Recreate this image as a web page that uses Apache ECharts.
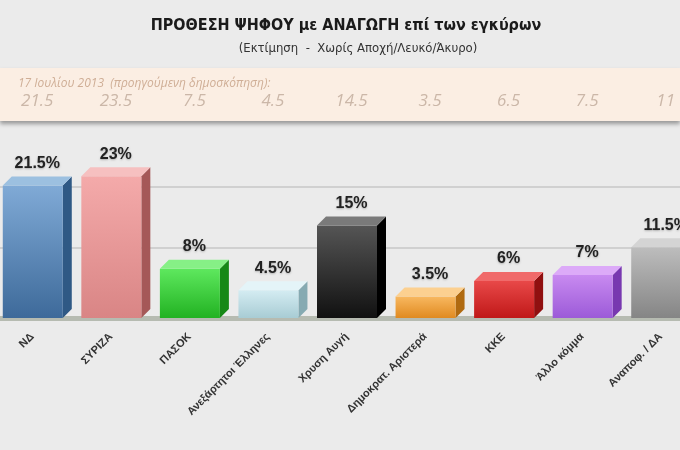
<!DOCTYPE html>
<html>
<head>
<meta charset="utf-8">
<script src="https://cdn.jsdelivr.net/npm/echarts@6/dist/echarts.min.js"></script>
<style>
  html, body { margin: 0; padding: 0; background: #ebebeb; }
  #chart { width: 680px; height: 450px; }
</style>
</head>
<body>
<div id="chart"></div>
<script>
(function() {

  // κόμματα
  var parties = ['ΝΔ', 'ΣΥΡΙΖΑ', 'ΠΑΣΟΚ', 'Ανεξάρτητοι Έλληνες', 'Χρυση Αυγή',
    'Δημοκρατ. Αριστερά', 'ΚΚΕ', 'Άλλο κόμμα', 'Αναποφ. / ΔΑ'];
  // τρέχουσα δημοσκόπηση (%)
  var current = [21.5, 23, 8, 4.5, 15, 3.5, 6, 7, 11.5];
  // 17 Ιουλίου 2013 (προηγούμενη)
  var previous = ['21.5', '23.5', '7.5', '4.5', '14.5', '3.5', '6.5', '7.5', '11'];

  // [front top, front bottom, side, top face]
  var palette = [
    ['#80aad6', '#3e6a9a', '#2f5985', '#9cc0e0'],
    ['#f4aaaa', '#d98585', '#a55858', '#f6c0c0'],
    ['#5ee85e', '#22b222', '#168816', '#86f086'],
    ['#d4ecf2', '#a8ccd4', '#86aab2', '#e4f4f8'],
    ['#555555', '#111111', '#000000', '#7a7a7a'],
    ['#f8b860', '#e08a20', '#b06a10', '#fcd090'],
    ['#e84848', '#c01818', '#901010', '#f06a6a'],
    ['#c88af0', '#9c5ad8', '#7838b0', '#dcaaf8'],
    ['#bdbdbd', '#858585', '#666666', '#d4d4d4']
  ];

  var chart = echarts.init(document.getElementById('chart'));

  function renderBar(params, api) {
    var idx = api.value(0);
    var v = api.value(1);
    var base = api.coord([idx, 0]);
    var top = api.coord([idx, v]);
    var bw = 60, d = 9;
    var x0 = base[0] - (bw + d) / 2;
    var c = palette[idx];
    return {
      type: 'group',
      children: [
        {
          type: 'polygon',
          shape: { points: [[x0 + bw, top[1]], [x0 + bw + d, top[1] - d], [x0 + bw + d, base[1] - d], [x0 + bw, base[1]]] },
          style: { fill: c[2] }
        },
        {
          type: 'rect',
          shape: { x: x0, y: top[1], width: bw, height: base[1] - top[1] },
          style: {
            fill: new echarts.graphic.LinearGradient(0, 0, 0, 1, [
              { offset: 0, color: c[0] }, { offset: 1, color: c[1] }
            ])
          }
        },
        {
          type: 'polygon',
          shape: { points: [[x0, top[1]], [x0 + d, top[1] - d], [x0 + bw + d, top[1] - d], [x0 + bw, top[1]]] },
          style: { fill: c[3] }
        },
        {
          type: 'text',
          x: x0 + (bw + d) / 2,
          y: top[1] - d - 5,
          style: {
            text: v + '%',
            fill: '#222',
            font: 'bold 16px "Liberation Sans", Arial, sans-serif',
            align: 'center',
            verticalAlign: 'bottom',
            textShadowColor: 'rgba(0,0,0,0.25)',
            textShadowBlur: 2,
            textShadowOffsetY: 1
          }
        }
      ]
    };
  }

  var option = {
    backgroundColor: '#ebebeb',
    animation: false,
    title: [
      {
        text: 'ΠΡΟΘΕΣΗ ΨΗΦΟΥ με ΑΝΑΓΩΓΗ επί των εγκύρων',
        left: 341, top: 13, textAlign: 'center',
        textStyle: { fontFamily: '"DejaVu Sans Condensed", sans-serif', fontWeight: 'bold', fontSize: 16, color: '#1a1a1a' }
      },
      {
        text: '(Εκτίμηση  -  Χωρίς Αποχή/Λευκό/Άκυρο)',
        left: 353, top: 37, textAlign: 'center',
        textStyle: { fontFamily: '"DejaVu Sans Condensed", sans-serif', fontWeight: 'normal', fontSize: 13, color: '#333' }
      },
      {
        text: '17 Ιουλίου 2013  (προηγούμενη δημοσκόπηση):',
        left: 13, top: 73,
        textStyle: { fontFamily: '"Open Sans", "DejaVu Sans", sans-serif', fontStyle: 'italic', fontWeight: 'normal', fontSize: 12, color: '#cfae96' }
      }
    ],
    graphic: [
      {
        type: 'rect', z: -1,
        shape: { x: 0, y: 68, width: 680, height: 53 },
        style: { fill: '#fbeee3', shadowColor: 'rgba(0,0,0,0.35)', shadowBlur: 4, shadowOffsetY: 3 }
      }
    ],
    grid: [
      { left: -2, right: -25, top: 164, bottom: 132, outerBoundsMode: 'none', containLabel: false },
      { left: 0, right: 0, top: 187, height: 61, outerBoundsMode: 'none' }
    ],
    xAxis: [
      {
        type: 'category', gridIndex: 0, data: parties,
        offset: 4,
        axisLine: { lineStyle: { color: '#b6bbb1', width: 5 } },
        axisTick: { show: false },
        axisLabel: {
          interval: 0, rotate: 45, margin: 8, padding: [0, 7, 0, 0],
          fontFamily: '"Liberation Sans", Arial, sans-serif', fontWeight: 'bold', fontSize: 11, color: '#333'
        }
      },
      {
        type: 'category', gridIndex: 0, data: previous, position: 'top',
        offset: 46,
        axisLine: { show: false }, axisTick: { show: false },
        axisLabel: {
          interval: 0, margin: 8,
          fontFamily: '"Open Sans", "DejaVu Sans", sans-serif', fontStyle: 'italic', fontSize: 17, color: '#cbb7a8'
        }
      },
      { type: 'value', gridIndex: 1, show: false }
    ],
    yAxis: [
      { type: 'value', gridIndex: 0, min: 0, max: 25, show: false },
      {
        type: 'value', gridIndex: 1, min: 10, max: 20, interval: 10,
        axisLine: { show: false }, axisTick: { show: false }, axisLabel: { show: false },
        splitLine: { show: true, lineStyle: { color: '#d0d0d0', width: 2 } }
      }
    ],
    series: [
      {
        type: 'custom',
        xAxisIndex: 0, yAxisIndex: 0,
        renderItem: renderBar,
        encode: { x: 0, y: 1 },
        data: current.map(function(v, i) { return [i, v]; })
      }
    ]
  };

  chart.setOption(option);

})();
</script>
</body>
</html>
